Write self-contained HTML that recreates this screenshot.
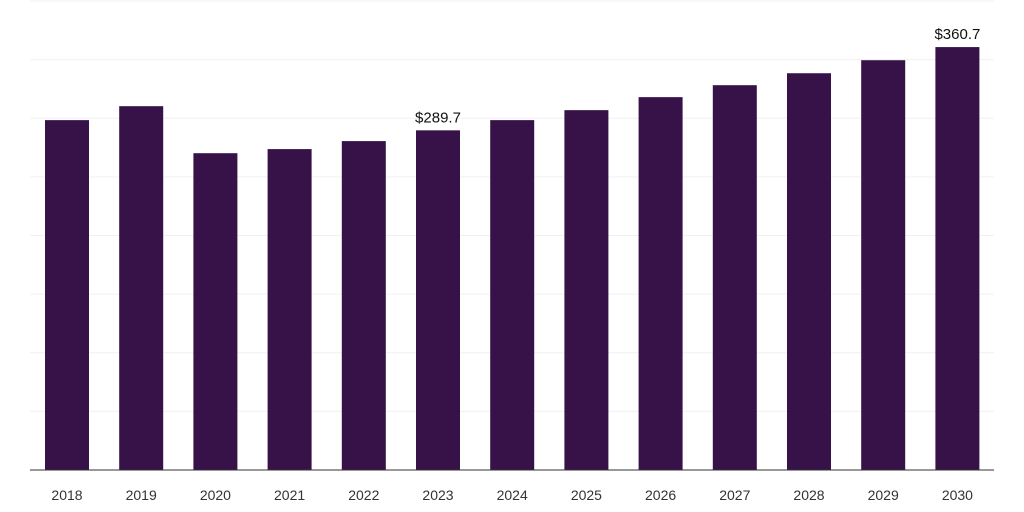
<!DOCTYPE html>
<html><head><meta charset="utf-8"><style>
body{margin:0;background:#fff;}
svg{display:block;font-family:"Liberation Sans",Arial,sans-serif;}
</style></head><body>
<svg id="chart" width="1024" height="512"></svg>
<script>
const categories=["2018","2019","2020","2021","2022","2023","2024","2025","2026","2027","2028","2029","2030"];
const values=[298.4,310.3,270.2,273.7,280.5,289.7,298.4,306.9,318.0,328.2,338.4,349.5,360.7];
const labels=[null,null,null,null,null,"$289.7",null,null,null,null,null,null,"$360.7"];
const gridTicks=[0,50,100,150,200,250,300,350,400];
const svg=document.getElementById('chart');
const NS="http://www.w3.org/2000/svg";
const baseY=470, pxPerUnit=1.1725;
const y=v=>baseY-v*pxPerUnit;
const x=i=>67+i*74.2;
function mk(t,a){const e=document.createElementNS(NS,t);for(const k in a)e.setAttribute(k,a[k]);svg.appendChild(e);return e;}
gridTicks.forEach(t=>{if(t===0)return;
 const g=mk('line',{x1:30,x2:994,y1:y(t),y2:y(t),stroke:'#f0f0f0','stroke-width':1});
 
 
});
values.forEach((v,i)=>{
 const r=mk('rect',{x:x(i)-22,y:y(v),width:44,height:v*pxPerUnit,fill:'#371249'});
 
 
 const t=mk('text',{x:x(i),y:500,'text-anchor':'middle','font-size':14,fill:'#333'});
 t.textContent=categories[i];
 
 
 if(labels[i]){const l=mk('text',{x:x(i),y:y(v)-8,'text-anchor':'middle','font-size':15,fill:'#111'});
  l.textContent=labels[i];
  
  }
});
const ax=mk('line',{x1:30,x2:994,y1:baseY,y2:baseY,stroke:'#333','stroke-width':1});


</script>
</body></html>
